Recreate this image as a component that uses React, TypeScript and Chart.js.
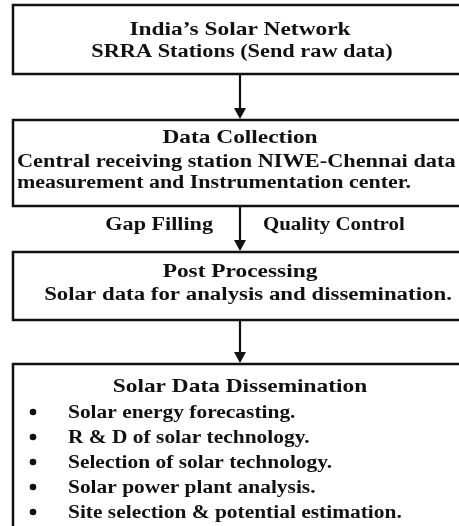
import React, { useEffect, useRef } from "react";
import { Chart, registerables } from "chart.js";

Chart.register(...registerables);

// ---- content (text data) ----
const box1Lines = ["India\u2019s Solar Network", "SRRA Stations (Send raw data)"];
const box2Lines = [
  "Data Collection",
  "Central receiving station NIWE-Chennai data",
  "measurement and Instrumentation center.",
];
const arrowLabels = ["Gap Filling", "Quality Control"];
const box3Lines = ["Post Processing", "Solar data for analysis and dissemination."];
const box4Title = ["Solar Data Dissemination"];
const box4Bullets = [
  "Solar energy forecasting.",
  "R & D of solar technology.",
  "Selection of solar technology.",
  "Solar power plant analysis.",
  "Site selection & potential estimation.",
];

// ---- layout (diagram units = pixels of a 459x526 sheet) ----
const W = 459;
const H = 526;
const boxes = [
  { x0: 13, y0: 5, x1: 475, y1: 74 },
  { x0: 13, y0: 120, x1: 475, y1: 206 },
  { x0: 13, y0: 252, x1: 475, y1: 320 },
  { x0: 13, y0: 364, x1: 475, y1: 540 },
];
const arrows = [
  { x: 240, y0: 74, y1: 120 },
  { x: 240, y0: 206, y1: 252 },
  { x: 240, y0: 320, y1: 364 },
];

type TextItem = {
  t: string;
  x: number;
  y: number;
  align: CanvasTextAlign;
  title?: boolean;
  sx: number;
};

function buildTexts(): TextItem[] {
  const items: TextItem[] = [];
  items.push({ t: box1Lines[0], x: 240, y: 35, align: "center", title: true, sx: 1.23 });
  items.push({ t: box1Lines[1], x: 242, y: 57, align: "center", sx: 1.24 });
  items.push({ t: box2Lines[0], x: 240, y: 143, align: "center", title: true, sx: 1.23 });
  items.push({ t: box2Lines[1], x: 17, y: 167, align: "left", sx: 1.24 });
  items.push({ t: box2Lines[2], x: 17, y: 188, align: "left", sx: 1.22 });
  items.push({ t: arrowLabels[0], x: 213, y: 230, align: "right", sx: 1.23 });
  items.push({ t: arrowLabels[1], x: 263, y: 230, align: "left", sx: 1.16 });
  items.push({ t: box3Lines[0], x: 240, y: 277, align: "center", title: true, sx: 1.23 });
  items.push({ t: box3Lines[1], x: 248, y: 300, align: "center", sx: 1.27 });
  items.push({ t: box4Title[0], x: 240, y: 392, align: "center", title: true, sx: 1.23 });
  box4Bullets.forEach((b, i) => {
    items.push({ t: b, x: 68, y: 418 + i * 25, align: "left", sx: 1.19 });
  });
  return items;
}

const flowPlugin = {
  id: "flowchart",
  afterDraw(chart: any) {
    const ctx: CanvasRenderingContext2D = chart.ctx;
    const xs = chart.scales.x;
    const ys = chart.scales.y;
    const px = (v: number) => xs.getPixelForValue(v);
    const py = (v: number) => ys.getPixelForValue(v);
    ctx.save();
    ctx.fillStyle = "#ffffff";
    ctx.fillRect(0, 0, chart.width, chart.height);
    // boxes
    ctx.strokeStyle = "#111111";
    ctx.lineWidth = 2.5;
    boxes.forEach((b) => {
      ctx.strokeRect(px(b.x0), py(b.y0), px(b.x1) - px(b.x0), py(b.y1) - py(b.y0));
    });
    // arrows
    arrows.forEach((a) => {
      const x = px(a.x);
      const yTop = py(a.y0);
      const yTip = py(a.y1) - 1;
      ctx.lineWidth = 2.2;
      ctx.beginPath();
      ctx.moveTo(x, yTop);
      ctx.lineTo(x, yTip - 9);
      ctx.stroke();
      ctx.fillStyle = "#111111";
      ctx.beginPath();
      ctx.moveTo(x - 6, yTip - 11);
      ctx.lineTo(x + 6, yTip - 11);
      ctx.lineTo(x, yTip);
      ctx.closePath();
      ctx.fill();
    });
    // texts (horizontally stretched like the source)
    ctx.fillStyle = "#111111";
    ctx.textBaseline = "alphabetic";
    buildTexts().forEach((it) => {
      ctx.save();
      ctx.font = it.title
        ? "bold 19px 'Liberation Serif', 'Times New Roman', serif"
        : "bold 18px 'Liberation Serif', 'Times New Roman', serif";
      ctx.textAlign = it.align;
      ctx.translate(px(it.x), py(it.y));
      ctx.scale(it.sx, 1);
      ctx.fillText(it.t, 0, 0);
      ctx.restore();
    });
    // bullets
    box4Bullets.forEach((_, i) => {
      ctx.beginPath();
      ctx.arc(px(33), py(418 + i * 25 - 6), 3.3, 0, Math.PI * 2);
      ctx.fill();
    });
    ctx.restore();
  },
};

export default function App() {
  const ref = useRef<HTMLCanvasElement | null>(null);
  useEffect(() => {
    document.body.style.margin = "0";
    if (!ref.current) return;
    const chart = new Chart(ref.current, {
      type: "scatter",
      data: { datasets: [{ data: [], showLine: false }] },
      options: {
        animation: false,
        responsive: false,
        maintainAspectRatio: false,
        layout: { padding: 0 },
        plugins: { legend: { display: false }, tooltip: { enabled: false } },
        scales: {
          x: { type: "linear", min: 0, max: W, display: false },
          y: { type: "linear", min: 0, max: H, reverse: true, display: false },
        },
      },
      plugins: [flowPlugin],
    });
    return () => chart.destroy();
  }, []);
  return (
    <div style={{ position: "absolute", left: 0, top: 0, width: W, height: H }}>
      <canvas ref={ref} width={W} height={H} style={{ display: "block" }} />
    </div>
  );
}
